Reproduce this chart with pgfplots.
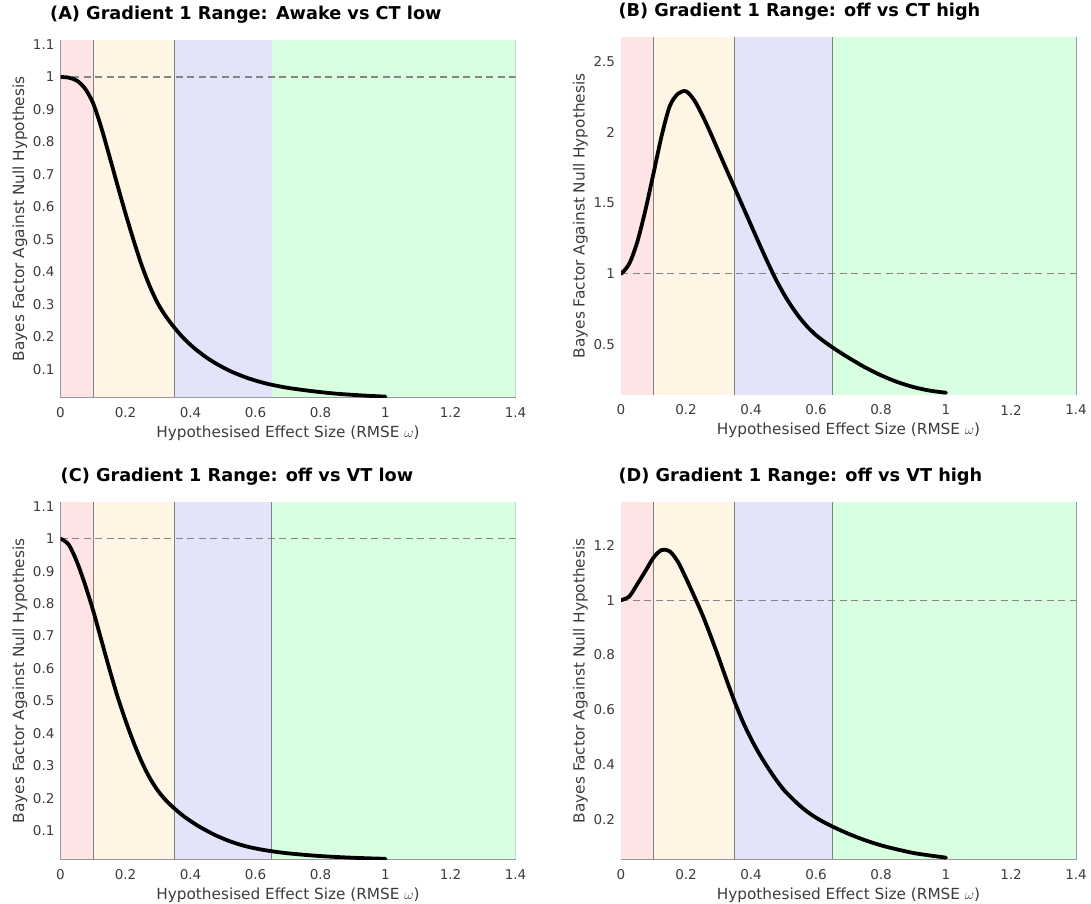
\documentclass[border=0pt]{standalone}
\usepackage{fontspec}
\setmainfont{DejaVu Sans}
\usepackage{pgfplots}
\pgfplotsset{compat=1.18}

\definecolor{bandA}{RGB}{255,228,230}
\definecolor{bandB}{RGB}{255,245,228}
\definecolor{bandC}{RGB}{227,227,250}
\definecolor{bandD}{RGB}{217,255,225}
\definecolor{txt}{RGB}{60,60,60}

% effect-size bands, their borders and the BF = 1 reference line
\newcommand{\bands}[1]{%
  \fill[bandA] ({axis cs:0,0}|-{rel axis cs:0,0}) rectangle ({axis cs:0.1,0}|-{rel axis cs:0,1});
  \fill[bandB] ({axis cs:0.1,0}|-{rel axis cs:0,0}) rectangle ({axis cs:0.35,0}|-{rel axis cs:0,1});
  \fill[bandC] ({axis cs:0.35,0}|-{rel axis cs:0,0}) rectangle ({axis cs:0.65,0}|-{rel axis cs:0,1});
  \fill[bandD] ({axis cs:0.65,0}|-{rel axis cs:0,0}) rectangle ({axis cs:1.4,0}|-{rel axis cs:0,1});
  \pgfplotsinvokeforeach{#1}{%
    \draw[black!50, line width=0.9pt] ({axis cs:##1,0}|-{rel axis cs:0,0}) -- ({axis cs:##1,0}|-{rel axis cs:0,1});
  }
  \draw[black!48, line width=1.2pt, dash pattern=on 7pt off 4.5pt] ({rel axis cs:0,0}|-{axis cs:0,1}) -- ({rel axis cs:1,0}|-{axis cs:0,1});
}

\pgfplotsset{
  panel/.style={
    scale only axis, width=455pt, height=357pt,
    xmin=0, xmax=1.4,
    xtick={0,0.2,0.4,0.6,0.8,1,1.2,1.4},
    xticklabels={0,0.2,0.4,0.6,0.8,1,1.2,1.4},
    /pgf/number format/assume math mode=true,
    axis line style={draw=black!40, line width=0.9pt},
    major tick length=0pt,
    tick style={draw=none},
    ticklabel style={font=\fontsize{13.5}{16}\selectfont, text=txt},
    xticklabel style={anchor=center, yshift=-15.5pt},
    yticklabel style={anchor=east, xshift=-2.5pt},
    xlabel={Hypothesised Effect Size (RMSE $\omega$)},
    ylabel={Bayes Factor Against Null Hypothesis},
    label style={font=\fontsize{15.3}{18}\selectfont, text=txt},
    xlabel style={at={(axis description cs:0.5,0)}, anchor=center, yshift=-35.5pt},
    ylabel style={at={(axis description cs:-0.089,0.5)}, anchor=center},
    title style={at={(axis description cs:0,1)}, anchor=base west, inner sep=0pt,
      yshift=15pt, font=\bfseries\fontsize{17.7}{20}\selectfont, text=black},
    clip=true,
  },
  curve/.style={black, line width=3.8pt, line join=round, line cap=round, smooth},
}

\begin{document}
\begin{tikzpicture}
\useasboundingbox (0,0) rectangle (1091pt,903pt);

% (A) Awake vs CT low
\begin{axis}[panel, at={(60.5pt,505.7pt)}, anchor=south west,
  ymin=0.014, ymax=1.113,
  ytick={0.1,0.2,0.3,0.4,0.5,0.6,0.7,0.8,0.9,1,1.1},
  yticklabels={0.1,0.2,0.3,0.4,0.5,0.6,0.7,0.8,0.9,1,1.1},
  title style={xshift=-10.5pt},
  title={(A) Gradient 1 Range: Awake vs CT low}]
\bands{0.1,0.35}
\addplot[curve] coordinates {
(0,1.000) (0.025,0.998) (0.05,0.989) (0.075,0.965) (0.1,0.920)
(0.125,0.846) (0.15,0.758) (0.175,0.668) (0.2,0.580) (0.225,0.497)
(0.25,0.420) (0.275,0.355) (0.3,0.302) (0.325,0.262) (0.35,0.229)
(0.375,0.200) (0.4,0.1755) (0.425,0.1545) (0.45,0.136) (0.475,0.120)
(0.5,0.106) (0.525,0.0935) (0.55,0.083) (0.575,0.0735) (0.6,0.0655)
(0.625,0.0585) (0.65,0.0525) (0.675,0.0475) (0.7,0.043) (0.75,0.036)
(0.8,0.030) (0.85,0.025) (0.9,0.0215) (0.95,0.0185) (1.0,0.016)};
\end{axis}

% (B) off vs CT high
\begin{axis}[panel, at={(621pt,508.5pt)}, anchor=south west,
  ymin=0.148, ymax=2.67,
  ytick={0.5,1,1.5,2,2.5},
  yticklabels={0.5,1,1.5,2,2.5},
  title style={xshift=-2.6pt},
  title={(B) Gradient 1 Range: off vs CT high}]
\bands{0.1,0.35,0.65}
\addplot[curve] coordinates {
(0,1.000) (0.025,1.070) (0.05,1.225) (0.075,1.450) (0.1,1.710)
(0.125,1.975) (0.15,2.185) (0.175,2.272) (0.2,2.290) (0.225,2.228)
(0.25,2.122) (0.275,1.998) (0.3,1.866) (0.325,1.735) (0.35,1.605)
(0.375,1.475) (0.4,1.345) (0.425,1.215) (0.45,1.088) (0.475,0.968)
(0.5,0.862) (0.525,0.770) (0.55,0.690) (0.575,0.6225) (0.6,0.5675)
(0.625,0.5225) (0.65,0.482) (0.675,0.444) (0.7,0.408) (0.725,0.374)
(0.75,0.341) (0.8,0.2835) (0.85,0.2365) (0.9,0.2005) (0.95,0.1755)
(1.0,0.1605)};
\end{axis}

% (C) off vs VT low
\begin{axis}[panel, at={(60.5pt,43.7pt)}, anchor=south west,
  ymin=0.012, ymax=1.112,
  ytick={0.1,0.2,0.3,0.4,0.5,0.6,0.7,0.8,0.9,1,1.1},
  yticklabels={0.1,0.2,0.3,0.4,0.5,0.6,0.7,0.8,0.9,1,1.1},
  title style={xshift=0pt},
  title={(C) Gradient 1 Range: off vs VT low}]
\bands{0.1,0.35,0.65}
\addplot[curve] coordinates {
(0,1.000) (0.025,0.982) (0.05,0.930) (0.075,0.860) (0.1,0.780)
(0.125,0.690) (0.15,0.600) (0.175,0.515) (0.2,0.440) (0.225,0.372)
(0.25,0.312) (0.275,0.262) (0.3,0.223) (0.325,0.193) (0.35,0.169)
(0.375,0.148) (0.4,0.130) (0.425,0.114) (0.45,0.100) (0.475,0.087)
(0.5,0.076) (0.525,0.066) (0.55,0.058) (0.575,0.051) (0.6,0.0455)
(0.625,0.0408) (0.65,0.0368) (0.675,0.0334) (0.7,0.0305) (0.75,0.0258)
(0.8,0.0220) (0.85,0.0191) (0.9,0.0168) (0.95,0.0150) (1.0,0.0135)};
\end{axis}

% (D) off vs VT high
\begin{axis}[panel, at={(621pt,43.7pt)}, anchor=south west,
  ymin=0.054, ymax=1.357,
  ytick={0.2,0.4,0.6,0.8,1,1.2},
  yticklabels={0.2,0.4,0.6,0.8,1,1.2},
  title style={xshift=-2.6pt},
  title={(D) Gradient 1 Range: off vs VT high}]
\bands{0.1,0.35,0.65}
\addplot[curve] coordinates {
(0,1.000) (0.025,1.013) (0.05,1.058) (0.075,1.106) (0.1,1.155)
(0.125,1.183) (0.15,1.178) (0.175,1.140) (0.2,1.080) (0.225,1.015)
(0.25,0.948) (0.275,0.872) (0.3,0.792) (0.325,0.708) (0.35,0.628)
(0.375,0.556) (0.4,0.494) (0.425,0.440) (0.45,0.392) (0.475,0.348)
(0.5,0.309) (0.525,0.278) (0.55,0.250) (0.575,0.226) (0.6,0.206)
(0.625,0.189) (0.65,0.174) (0.675,0.160) (0.7,0.147) (0.75,0.124)
(0.8,0.105) (0.85,0.090) (0.9,0.077) (0.95,0.068) (1.0,0.060)};
\end{axis}
\end{tikzpicture}
\end{document}
